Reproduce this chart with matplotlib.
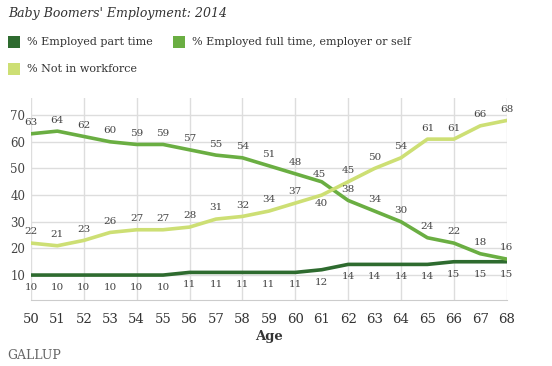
import matplotlib.pyplot as plt
from matplotlib.patches import Rectangle

plt.rcParams['font.family'] = 'DejaVu Serif'

ages = list(range(50, 69))
part_time = [10, 10, 10, 10, 10, 10, 11, 11, 11, 11, 11, 12, 14, 14, 14, 14, 15, 15, 15]
full_time = [63, 64, 62, 60, 59, 59, 57, 55, 54, 51, 48, 45, 38, 34, 30, 24, 22, 18, 16]
not_working = [22, 21, 23, 26, 27, 27, 28, 31, 32, 34, 37, 40, 45, 50, 54, 61, 61, 66, 68]

series_names = ['% Employed part time', '% Employed full time, employer or self', '% Not in workforce']
colors = ['#2e6b2f', '#6aae42', '#cddf74']

fig = plt.figure(figsize=(5.52, 3.66), dpi=100)
ax = fig.add_axes([0.056, 0.180, 0.862, 0.552])

ax.plot(ages, part_time, color=colors[0], lw=2.6, zorder=3)
ax.plot(ages, full_time, color=colors[1], lw=2.6, zorder=3)
ax.plot(ages, not_working, color=colors[2], lw=2.6, zorder=3)

lab_kw = dict(textcoords='offset points', ha='center', va='center', fontsize=7.5, color='#444444')
for i, a in enumerate(ages):
    ax.annotate(str(part_time[i]), (a, part_time[i]), xytext=(0, -9), **lab_kw)
    # full time labels above, except the crossing point
    if i == 11:
        ax.annotate(str(full_time[i]), (a, full_time[i]), xytext=(-2, 5), **lab_kw)
        ax.annotate(str(not_working[i]), (a, not_working[i]), xytext=(0, -6), **lab_kw)
    else:
        ax.annotate(str(full_time[i]), (a, full_time[i]), xytext=(0, 8), **lab_kw)
        ax.annotate(str(not_working[i]), (a, not_working[i]), xytext=(0, 8), **lab_kw)

ax.set_xlim(50, 68)
ax.set_ylim(0.6, 76.4)
ax.set_xticks(ages)
ax.set_yticks([10, 20, 30, 40, 50, 60, 70])
ax.tick_params(axis='x', length=0, pad=9, labelsize=9.5, labelcolor='#333333')
ax.tick_params(axis='y', length=0, pad=4, labelsize=8.5, labelcolor='#444444')
ax.set_xlabel('Age', fontsize=9.5, fontweight='bold', color='#333333', labelpad=3)

# grid: horizontal every 10, vertical every 2 years
for y in [10, 20, 30, 40, 50, 60, 70]:
    ax.axhline(y, color='#dddddd', lw=1, zorder=1)
for x in range(50, 69, 2):
    ax.axvline(x, color='#dddddd', lw=1, zorder=1)
for s in ['top', 'right', 'left']:
    ax.spines[s].set_visible(False)
ax.spines['bottom'].set_color('#cccccc')

fig.text(0.014, 0.962, "Baby Boomers' Employment: 2014", fontsize=9, style='italic',
         color='#333333', ha='left', va='center')

# legend
legend_pos = [(8, 42), (173, 42), (8, 69)]
for (px, py), name, c in zip(legend_pos, series_names, colors):
    fig.patches.append(Rectangle((px / 552, 1 - (py + 6) / 366), 12 / 552, 12 / 366,
                                 transform=fig.transFigure, facecolor=c, edgecolor='none'))
    fig.text((px + 19) / 552, 1 - py / 366, name, fontsize=8, color='#333333',
             ha='left', va='center')

fig.text(0.013, 0.03, 'GALLUP', fontsize=9, color='#666666', ha='left', va='center')

plt.savefig('out.png', dpi=100)
plt.close()
